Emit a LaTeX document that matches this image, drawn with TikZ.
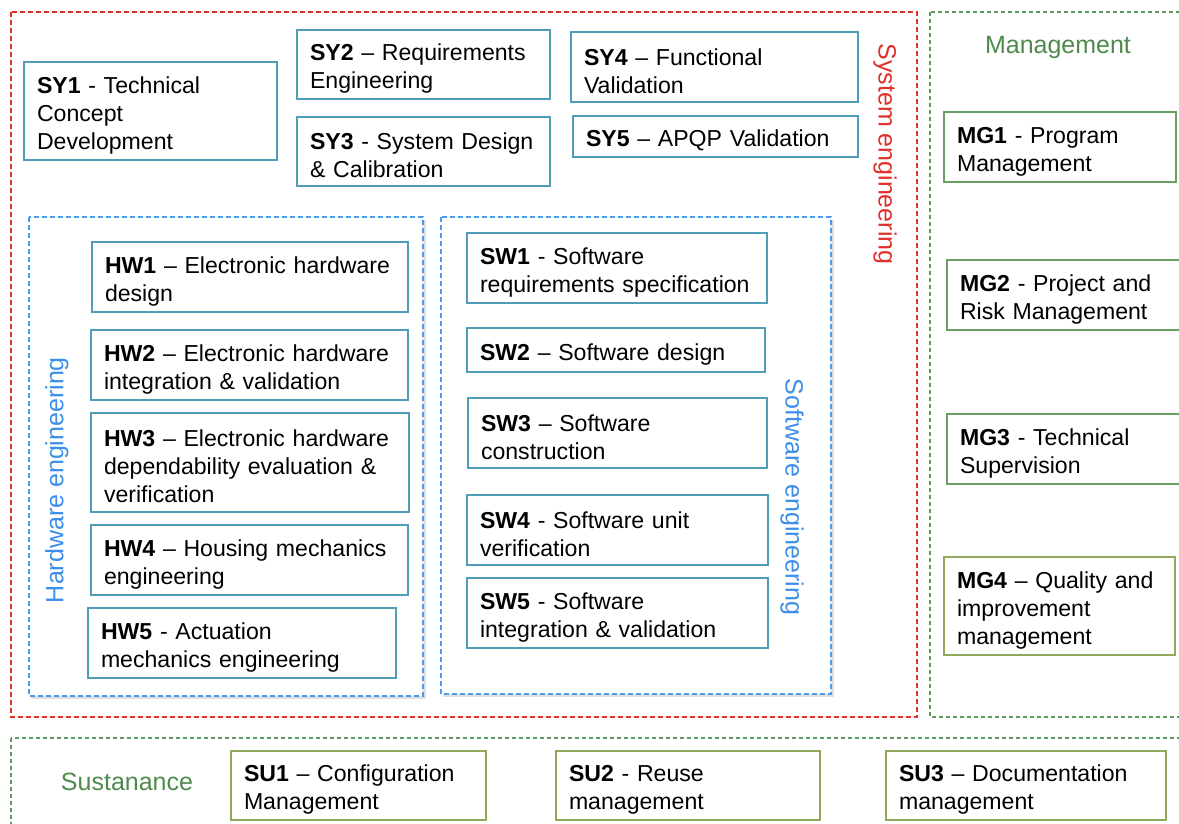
\documentclass[tikz,border=0pt]{standalone}
\usepackage{fontspec}
\setmainfont{Liberation Sans}
\definecolor{teal}{HTML}{4F9DB8}
\definecolor{mggreen}{HTML}{6A9F63}
\definecolor{olive}{HTML}{8EAA5A}
\definecolor{sysred}{HTML}{E0302A}
\definecolor{dgreen}{HTML}{5E9A5E}
\definecolor{lblue}{HTML}{4A9BF0}
\definecolor{lbltext}{HTML}{3B8EEA}
\definecolor{lblgreen}{HTML}{4E8A4E}
\tikzset{
  boxbase/.style={draw, line width=1.3pt, fill=white, inner xsep=13pt, inner ysep=0pt, align=left,
    font=\fontsize{23.1}{28}\selectfont},
  tealbox/.style={boxbase, draw=teal},
  greenbox/.style={boxbase, draw=mggreen},
  olivebox/.style={boxbase, draw=olive},
  redframe/.style={draw=sysred, line width=1.4pt, dash pattern=on 5pt off 3pt},
  greenframe/.style={draw=dgreen, line width=1.1pt, dash pattern=on 4pt off 3pt},
  blueframe/.style={draw=lblue, line width=1.4pt, dash pattern=on 5pt off 3pt, fill=white},
  shadowframe/.style={fill=black!12, draw=none},
  grouplabel/.style={font=\fontsize{25}{30}\selectfont, inner sep=0pt},
}
\newcommand\mybox[7]{%
  \pgfmathsetmacro\bw{#5-#3}%
  \pgfmathsetmacro\bh{#6-#4}%
  \pgfmathsetmacro\tw{#5-#3-26}%
  \node[#1, minimum width=\bw pt, minimum height=\bh pt, text width=\tw pt] (#2) at ({(#3+#5)/2},{(#4+#6)/2}) {\rule{0pt}{25pt}#7};}
\begin{document}
\begin{tikzpicture}[x=1pt,y=-1pt]
\useasboundingbox (0,0) rectangle (1179,823);
\clip (0,0) rectangle (1179,823);
\fill[white] (0,0) rectangle (1179,823);
% frames
\draw[redframe] (11,12) rectangle (917,717);
\draw[greenframe] (930,12) rectangle (1190,717);
\draw[greenframe] (11,738) rectangle (1190,830);
\fill[shadowframe] (31,220) rectangle (426,699);
\fill[shadowframe] (443,220) rectangle (834,697);
\draw[blueframe] (29,217) rectangle (423,696);
\draw[blueframe] (441,217) rectangle (831,694);
% group labels
\node[grouplabel, text=sysred, rotate=-90] (lsys) at (885,154) {System engineering};
\node[grouplabel, text=lbltext, rotate=90] (lhw) at (57,480) {Hardware engineering};
\node[grouplabel, text=lbltext, rotate=-90] (lsw) at (792,497) {Software engineering};
\node[grouplabel, text=lblgreen] (lmg) at (1058,47) {Management};
\node[grouplabel, text=lblgreen] (lsu) at (127,782) {Sustanance};
% system boxes
\mybox{tealbox}{sy1}{24}{62}{277}{160}{\textbf{SY1} - Technical\\Concept\\Development}
\mybox{tealbox}{sy2}{297}{30}{550}{99}{\textbf{SY2} – Requirements\\Engineering}
\mybox{tealbox}{sy3}{297}{117}{550}{186}{\textbf{SY3} - System Design\\\& Calibration}
\mybox{tealbox}{sy4}{571}{32}{858}{102}{\textbf{SY4} – Functional\\Validation}
\mybox{tealbox}{sy5}{573}{116}{858}{157}{\textbf{SY5} – APQP Validation}
% hardware boxes
\mybox{tealbox}{hw1}{92}{242}{408}{312}{\textbf{HW1} – Electronic hardware\\design}
\mybox{tealbox}{hw2}{91}{330}{408}{400}{\textbf{HW2} – Electronic hardware\\integration \& validation}
\mybox{tealbox}{hw3}{91}{413}{409}{512}{\textbf{HW3} – Electronic hardware\\dependability evaluation \&\\verification}
\mybox{tealbox}{hw4}{91}{525}{408}{595}{\textbf{HW4} – Housing mechanics\\engineering}
\mybox{tealbox}{hw5}{88}{608}{396}{678}{\textbf{HW5} - Actuation\\mechanics engineering}
% software boxes
\mybox{tealbox}{sw1}{467}{233}{767}{303}{\textbf{SW1} - Software\\requirements specification}
\mybox{tealbox}{sw2}{467}{328}{765}{372}{\textbf{SW2} – Software design}
\mybox{tealbox}{sw3}{468}{398}{767}{468}{\textbf{SW3} – Software\\construction}
\mybox{tealbox}{sw4}{467}{495}{768}{565}{\textbf{SW4} - Software unit\\verification}
\mybox{tealbox}{sw5}{467}{578}{768}{648}{\textbf{SW5} - Software\\integration \& validation}
% management boxes
\mybox{greenbox}{mg1}{944}{112}{1176}{182}{\textbf{MG1} - Program\\Management}
\mybox{greenbox}{mg2}{947}{260}{1192}{330}{\textbf{MG2} - Project and\\Risk Management}
\mybox{greenbox}{mg3}{947}{414}{1192}{484}{\textbf{MG3} - Technical\\Supervision}
\mybox{olivebox}{mg4}{944}{557}{1175}{655}{\textbf{MG4} – Quality and\\improvement\\management}
% sustenance boxes
\mybox{olivebox}{su1}{231}{751}{486}{820}{\textbf{SU1} – Configuration\\Management}
\mybox{olivebox}{su2}{556}{751}{820}{820}{\textbf{SU2} - Reuse\\management}
\mybox{olivebox}{su3}{886}{751}{1166}{820}{\textbf{SU3} – Documentation\\management}
\end{tikzpicture}
\end{document}
